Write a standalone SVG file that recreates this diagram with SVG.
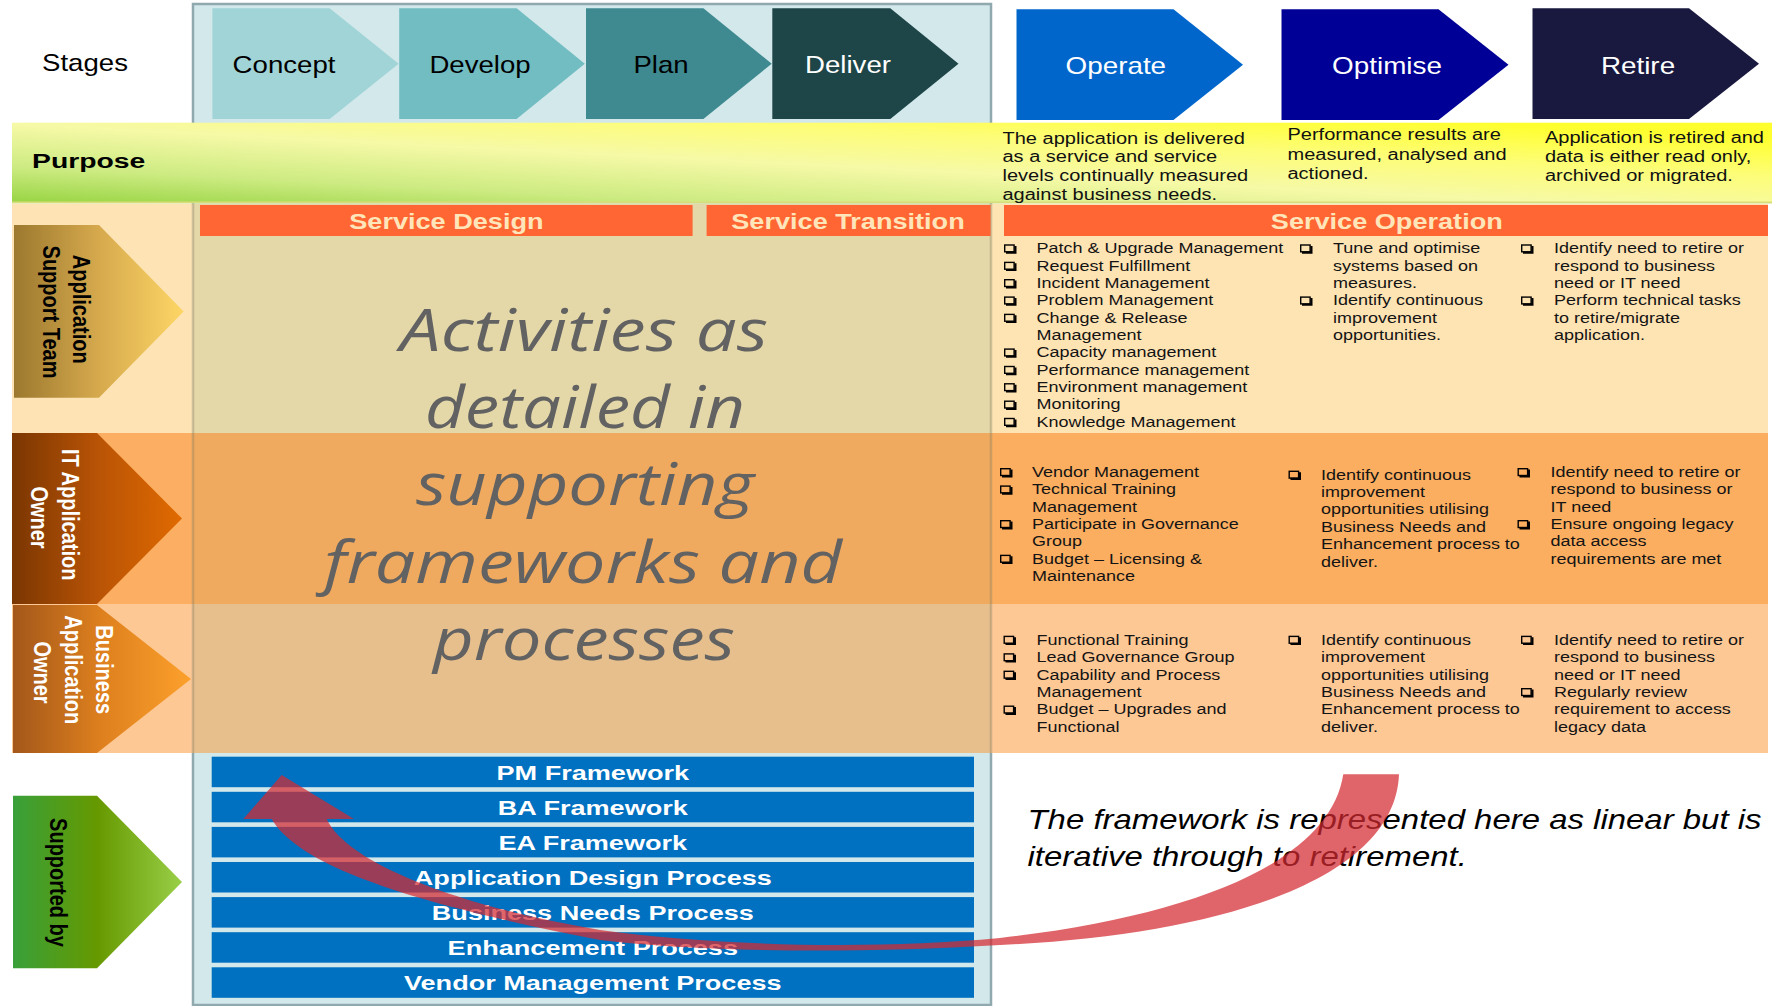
<svg xmlns="http://www.w3.org/2000/svg" xmlns:xlink="http://www.w3.org/1999/xlink" width="1772" height="1006" viewBox="0 0 1772 1006">
  <style>
    text { font-family: "Liberation Sans", Arial, sans-serif; }
    .stg { font-size: 24px; text-anchor: middle; }
    .dark { fill: #000; }
    .light { fill: #fff; }
    .lbl { font-size: 20px; font-weight: bold; text-anchor: middle; }
    .svc { font-size: 22.4px; font-weight: bold; fill: #FFE6BA; text-anchor: middle; }
    .li { font-size: 15px; fill: #141414; }
    .pd { font-size: 16px; fill: #111; }
    .fwt { font-size: 21px; font-weight: bold; fill: #fff; text-anchor: middle; }
    .fwb { fill: #0070C0; }
    .big { font-family: "Open Sans", "DejaVu Sans", sans-serif; font-style: italic; font-size: 58px; fill: #626262; text-anchor: middle; }
    .note { font-size: 27px; font-style: italic; fill: #000; }
    .sbar { fill: #FF6633; }
  </style>
  <defs>
    <linearGradient id="gPurpose" gradientUnits="userSpaceOnUse" x1="20" y1="200" x2="27.6" y2="50">
      <stop offset="0" stop-color="#9CD648"/>
      <stop offset="0.22" stop-color="#CDEB82"/>
      <stop offset="0.5" stop-color="#F6F9A6"/>
      <stop offset="0.75" stop-color="#FDFD78"/>
      <stop offset="1" stop-color="#FFFF30"/>
    </linearGradient>
    <linearGradient id="gSupport" x1="0" y1="0" x2="1" y2="0">
      <stop offset="0" stop-color="#9C792F"/>
      <stop offset="0.5" stop-color="#D6A94D"/>
      <stop offset="1" stop-color="#FDD666"/>
    </linearGradient>
    <linearGradient id="gIT" x1="0" y1="0" x2="1" y2="0">
      <stop offset="0" stop-color="#7A3601"/>
      <stop offset="0.5" stop-color="#B85306"/>
      <stop offset="1" stop-color="#E06A00"/>
    </linearGradient>
    <linearGradient id="gBiz" x1="0" y1="0" x2="1" y2="0">
      <stop offset="0" stop-color="#A3571A"/>
      <stop offset="0.5" stop-color="#DE801E"/>
      <stop offset="1" stop-color="#FCA02C"/>
    </linearGradient>
    <linearGradient id="gSup" x1="0" y1="0" x2="1" y2="0">
      <stop offset="0" stop-color="#38A03A"/>
      <stop offset="0.5" stop-color="#669900"/>
      <stop offset="1" stop-color="#99CF48"/>
    </linearGradient>
    <!-- shadowed check-box bullet -->
    <g id="cb">
      <rect x="0.7" y="0.7" width="9.4" height="6.8" fill="none" stroke="#000" stroke-width="1.4"/>
      <path d="M2 8.3H11.4V1.6" fill="none" stroke="#000" stroke-width="2.2"/>
    </g>
  </defs>

  <rect width="1772" height="1006" fill="#fff"/>

  <!-- lifecycle container (stages + middle column + frameworks) -->
  <g id="stage-container">
    <rect x="193" y="4" width="798" height="1001" fill="#D2E8EB" stroke="#8FA9AE" stroke-width="2.5"/>
  </g>

  <!-- stage chevrons -->
  <g id="stages-label"><text class="stg dark" transform="translate(85 70.7) scale(1.15 1)">Stages</text></g>
  <g id="stage-concept">
    <polygon points="212.4,8.3 329.7,8.3 398.6,63.7 329.7,119 212.4,119" fill="#A1D4D7"/>
    <text class="stg dark" transform="translate(284 73.3) scale(1.15 1)">Concept</text>
  </g>
  <g id="stage-develop">
    <polygon points="399.2,8.3 516.6,8.3 584.8,63.7 516.6,119 399.2,119" fill="#72BDC2"/>
    <text class="stg dark" transform="translate(480 73.3) scale(1.15 1)">Develop</text>
  </g>
  <g id="stage-plan">
    <polygon points="586,8.3 703.4,8.3 771.7,63.7 703.4,119 586,119" fill="#3E8A90"/>
    <text class="stg dark" transform="translate(661 73.3) scale(1.15 1)">Plan</text>
  </g>
  <g id="stage-deliver">
    <polygon points="772.3,8.3 890.3,8.3 958.5,63.7 890.3,119 772.3,119" fill="#1E4548"/>
    <text class="stg light" transform="translate(848 73.3) scale(1.15 1)">Deliver</text>
  </g>
  <g id="stage-operate">
    <polygon points="1016.5,9.3 1173.5,9.3 1243,64.7 1173.5,120 1016.5,120" fill="#0166CC"/>
    <text class="stg light" transform="translate(1115.8 74) scale(1.16 1)">Operate</text>
  </g>
  <g id="stage-optimise">
    <polygon points="1281.5,9.3 1438.5,9.3 1508.5,64.7 1438.5,120 1281.5,120" fill="#000096"/>
    <text class="stg light" transform="translate(1387 74) scale(1.16 1)">Optimise</text>
  </g>
  <g id="stage-retire">
    <polygon points="1532.5,8.3 1689,8.3 1759,63.7 1689,119 1532.5,119" fill="#19183F"/>
    <text class="stg light" transform="translate(1638 74) scale(1.16 1)">Retire</text>
  </g>

  <!-- purpose band -->
  <g id="purpose">
    <rect x="12" y="122.7" width="1760" height="80" fill="url(#gPurpose)"/>
    <line x1="12" y1="202.5" x2="1772" y2="202.5" stroke="#D9DC7A" stroke-width="2"/>
    <text transform="translate(32 168.3) scale(1.35 1)" font-size="21" font-weight="bold" fill="#000">Purpose</text>
    <text class="pd" transform="translate(1002.5 143.6) scale(1.25 1)">
      <tspan x="0" y="0">The application  is delivered</tspan>
      <tspan x="0" y="18.9">as a service and service</tspan>
      <tspan x="0" y="37.8">levels continually  measured</tspan>
      <tspan x="0" y="56.7">against business needs.</tspan>
    </text>
    <text class="pd" transform="translate(1287.5 140.4) scale(1.25 1)">
      <tspan x="0" y="0">Performance results are</tspan>
      <tspan x="0" y="19.5">measured, analysed and</tspan>
      <tspan x="0" y="39">actioned.</tspan>
    </text>
    <text class="pd" transform="translate(1545 142.7) scale(1.25 1)">
      <tspan x="0" y="0">Application  is retired and</tspan>
      <tspan x="0" y="19.3">data is either read only,</tspan>
      <tspan x="0" y="38.6">archived or migrated.</tspan>
    </text>
  </g>

  <!-- role rows -->
  <g id="row-support-team">
    <rect x="12" y="204" width="181" height="229" fill="#FEE3B5"/>
    <rect x="193" y="204" width="798" height="229" fill="#E5D8A8"/>
    <rect x="991" y="204" width="777" height="229" fill="#FEE3B3"/>
    <polygon points="14,225 99,225 183.7,311.5 99,397.7 14,397.7" fill="url(#gSupport)"/>
    <text class="lbl dark" transform="translate(73 312) scale(1.2 1) rotate(90)">
      <tspan x="0" y="0">Application</tspan>
      <tspan x="0" y="25">Support Team</tspan>
    </text>
  </g>
  <g id="row-it-owner">
    <rect x="12" y="433" width="181" height="171" fill="#FCAF62"/>
    <rect x="193" y="433" width="798" height="171" fill="#F0AA5F"/>
    <rect x="991" y="433" width="777" height="171" fill="#FBAE60"/>
    <polygon points="12,433 97,433 182,518.5 97,604 12,604" fill="url(#gIT)"/>
    <text class="lbl light" transform="translate(62 517.5) scale(1.2 1) rotate(90)">
      <tspan x="0" y="0">IT Application</tspan>
      <tspan x="0" y="26">Owner</tspan>
    </text>
  </g>
  <g id="row-business-owner">
    <rect x="12" y="604" width="181" height="149" fill="#FEC895"/>
    <rect x="193" y="604" width="798" height="149" fill="#E6BF8C"/>
    <rect x="991" y="604" width="777" height="149" fill="#FEC895"/>
    <polygon points="13,605 97,605 191,679 97,753 13,753" fill="url(#gBiz)"/>
    <text class="lbl light" transform="translate(96.3 672.5) scale(1.2 1) rotate(90)">
      <tspan x="0" y="0">Business</tspan>
      <tspan x="0" y="26">Application</tspan>
      <tspan x="0" y="52">Owner</tspan>
    </text>
  </g>
  <g id="row-supported-by">
    <polygon points="13,795.7 97,795.7 182,882 97,968.3 13,968.3" fill="url(#gSup)"/>
    <text class="lbl dark" transform="translate(49.8 882.5) scale(1.2 1) rotate(90)">Supported by</text>
  </g>

  <!-- container edges seen through the rows -->
  <g id="container-edges" stroke="#7C7A62" stroke-opacity="0.35" stroke-width="2.5">
    <line x1="193" y1="204" x2="193" y2="753"/>
    <line x1="991" y1="204" x2="991" y2="753"/>
  </g>

  <!-- service phase headers -->
  <g id="service-design">
    <rect class="sbar" x="200" y="205" width="492.6" height="31"/>
    <text class="svc" transform="translate(446.4 229) scale(1.21 1)">Service Design</text>
  </g>
  <g id="service-transition">
    <rect class="sbar" x="706.6" y="205" width="284" height="31"/>
    <text class="svc" transform="translate(848 229) scale(1.21 1)">Service Transition</text>
  </g>
  <g id="service-operation">
    <rect class="sbar" x="1004" y="205" width="764" height="31"/>
    <text class="svc" transform="translate(1386.8 229) scale(1.21 1)">Service Operation</text>
  </g>

  <!-- middle column statement -->
  <g id="activities-note">
    <text class="big" x="584" y="351" textLength="368" lengthAdjust="spacingAndGlyphs">Activities as</text>
    <text class="big" x="585" y="428" textLength="320" lengthAdjust="spacingAndGlyphs">detailed in</text>
    <text class="big" x="585" y="505" textLength="338" lengthAdjust="spacingAndGlyphs">supporting</text>
    <text class="big" x="583" y="582.5" textLength="518" lengthAdjust="spacingAndGlyphs">frameworks and</text>
    <text class="big" x="584" y="660" textLength="302" lengthAdjust="spacingAndGlyphs">processes</text>
  </g>

  <!-- Service Operation activities: Application Support Team -->
  <g id="support-operate">
    <use href="#cb" x="1004" y="244.3"/>
    <use href="#cb" x="1004" y="261.7"/>
    <use href="#cb" x="1004" y="279"/>
    <use href="#cb" x="1004" y="296.4"/>
    <use href="#cb" x="1004" y="313.7"/>
    <use href="#cb" x="1004" y="348.4"/>
    <use href="#cb" x="1004" y="365.8"/>
    <use href="#cb" x="1004" y="383.1"/>
    <use href="#cb" x="1004" y="400.5"/>
    <use href="#cb" x="1004" y="417.8"/>
    <text class="li" transform="translate(1036.5 253.3) scale(1.2 1)">
      <tspan x="0" y="0">Patch &amp; Upgrade Management</tspan>
      <tspan x="0" y="17.35">Request Fulfillment</tspan>
      <tspan x="0" y="34.7">Incident Management</tspan>
      <tspan x="0" y="52.05">Problem Management</tspan>
      <tspan x="0" y="69.4">Change &amp; Release</tspan>
      <tspan x="0" y="86.75">Management</tspan>
      <tspan x="0" y="104.1">Capacity management</tspan>
      <tspan x="0" y="121.45">Performance management</tspan>
      <tspan x="0" y="138.8">Environment management</tspan>
      <tspan x="0" y="156.15">Monitoring</tspan>
      <tspan x="0" y="173.5">Knowledge Management</tspan>
    </text>
  </g>
  <g id="support-optimise">
    <use href="#cb" x="1300" y="244.3"/>
    <use href="#cb" x="1300" y="296.4"/>
    <text class="li" transform="translate(1333 253.3) scale(1.2 1)">
      <tspan x="0" y="0">Tune and optimise</tspan>
      <tspan x="0" y="17.35">systems based on</tspan>
      <tspan x="0" y="34.7">measures.</tspan>
      <tspan x="0" y="52.05">Identify continuous</tspan>
      <tspan x="0" y="69.4">improvement</tspan>
      <tspan x="0" y="86.75">opportunities.</tspan>
    </text>
  </g>
  <g id="support-retire">
    <use href="#cb" x="1521" y="244.3"/>
    <use href="#cb" x="1521" y="296.4"/>
    <text class="li" transform="translate(1554 253.3) scale(1.2 1)">
      <tspan x="0" y="0">Identify need to retire or</tspan>
      <tspan x="0" y="17.35">respond to business</tspan>
      <tspan x="0" y="34.7">need or IT need</tspan>
      <tspan x="0" y="52.05">Perform technical tasks</tspan>
      <tspan x="0" y="69.4">to retire/migrate</tspan>
      <tspan x="0" y="86.75">application.</tspan>
    </text>
  </g>

  <!-- Service Operation activities: IT Application Owner -->
  <g id="it-operate">
    <use href="#cb" x="1000" y="468"/>
    <use href="#cb" x="1000" y="485.4"/>
    <use href="#cb" x="1000" y="520"/>
    <use href="#cb" x="1000" y="554.7"/>
    <text class="li" transform="translate(1032 477) scale(1.2 1)">
      <tspan x="0" y="0">Vendor Management</tspan>
      <tspan x="0" y="17.35">Technical Training</tspan>
      <tspan x="0" y="34.7">Management</tspan>
      <tspan x="0" y="52.05">Participate in Governance</tspan>
      <tspan x="0" y="69.4">Group</tspan>
      <tspan x="0" y="86.75">Budget – Licensing &amp;</tspan>
      <tspan x="0" y="104.1">Maintenance</tspan>
    </text>
  </g>
  <g id="it-optimise">
    <use href="#cb" x="1288.5" y="470.6"/>
    <text class="li" transform="translate(1321 479.6) scale(1.2 1)">
      <tspan x="0" y="0">Identify continuous</tspan>
      <tspan x="0" y="17.45">improvement</tspan>
      <tspan x="0" y="34.9">opportunities utilising</tspan>
      <tspan x="0" y="52.35">Business Needs and</tspan>
      <tspan x="0" y="69.8">Enhancement process to</tspan>
      <tspan x="0" y="87.25">deliver.</tspan>
    </text>
  </g>
  <g id="it-retire">
    <use href="#cb" x="1517.5" y="468"/>
    <use href="#cb" x="1517.5" y="520"/>
    <text class="li" transform="translate(1550.5 477) scale(1.2 1)">
      <tspan x="0" y="0">Identify need to retire or</tspan>
      <tspan x="0" y="17.35">respond to business or</tspan>
      <tspan x="0" y="34.7">IT need</tspan>
      <tspan x="0" y="52.05">Ensure ongoing legacy</tspan>
      <tspan x="0" y="69.4">data access</tspan>
      <tspan x="0" y="86.75">requirements are met</tspan>
    </text>
  </g>

  <!-- Service Operation activities: Business Application Owner -->
  <g id="biz-operate">
    <use href="#cb" x="1003.5" y="635.7"/>
    <use href="#cb" x="1003.5" y="653.2"/>
    <use href="#cb" x="1003.5" y="670.6"/>
    <use href="#cb" x="1003.5" y="705.5"/>
    <text class="li" transform="translate(1036.5 644.7) scale(1.2 1)">
      <tspan x="0" y="0">Functional Training</tspan>
      <tspan x="0" y="17.45">Lead Governance Group</tspan>
      <tspan x="0" y="34.9">Capability and Process</tspan>
      <tspan x="0" y="52.35">Management</tspan>
      <tspan x="0" y="69.8">Budget – Upgrades  and</tspan>
      <tspan x="0" y="87.25">Functional</tspan>
    </text>
  </g>
  <g id="biz-optimise">
    <use href="#cb" x="1288.5" y="635.7"/>
    <text class="li" transform="translate(1321 644.7) scale(1.2 1)">
      <tspan x="0" y="0">Identify continuous</tspan>
      <tspan x="0" y="17.45">improvement</tspan>
      <tspan x="0" y="34.9">opportunities utilising</tspan>
      <tspan x="0" y="52.35">Business Needs and</tspan>
      <tspan x="0" y="69.8">Enhancement process to</tspan>
      <tspan x="0" y="87.25">deliver.</tspan>
    </text>
  </g>
  <g id="biz-retire">
    <use href="#cb" x="1521" y="635.7"/>
    <use href="#cb" x="1521" y="688"/>
    <text class="li" transform="translate(1554 644.7) scale(1.2 1)">
      <tspan x="0" y="0">Identify need to retire or</tspan>
      <tspan x="0" y="17.45">respond to business</tspan>
      <tspan x="0" y="34.9">need or IT need</tspan>
      <tspan x="0" y="52.35">Regularly review</tspan>
      <tspan x="0" y="69.8">requirement to access</tspan>
      <tspan x="0" y="87.25">legacy data</tspan>
    </text>
  </g>

  <!-- supporting frameworks and processes -->
  <g id="fw-pm">
    <rect class="fwb" x="211.7" y="756.7" width="762.3" height="30.5"/>
    <text class="fwt" transform="translate(592.8 779.7) scale(1.29 1)">PM Framework</text>
  </g>
  <g id="fw-ba">
    <rect class="fwb" x="211.7" y="791.8" width="762.3" height="30.5"/>
    <text class="fwt" transform="translate(592.8 814.8) scale(1.29 1)">BA Framework</text>
  </g>
  <g id="fw-ea">
    <rect class="fwb" x="211.7" y="826.9" width="762.3" height="30.5"/>
    <text class="fwt" transform="translate(592.8 849.9) scale(1.29 1)">EA Framework</text>
  </g>
  <g id="fw-app-design">
    <rect class="fwb" x="211.7" y="862" width="762.3" height="30.5"/>
    <text class="fwt" transform="translate(592.8 885) scale(1.29 1)">Application Design Process</text>
  </g>
  <g id="fw-business-needs">
    <rect class="fwb" x="211.7" y="897.1" width="762.3" height="30.5"/>
    <text class="fwt" transform="translate(592.8 920.1) scale(1.29 1)">Business Needs Process</text>
  </g>
  <g id="fw-enhancement">
    <rect class="fwb" x="211.7" y="932.2" width="762.3" height="30.5"/>
    <text class="fwt" transform="translate(592.8 955.2) scale(1.29 1)">Enhancement Process</text>
  </g>
  <g id="fw-vendor">
    <rect class="fwb" x="211.7" y="967.3" width="762.3" height="30.5"/>
    <text class="fwt" transform="translate(592.8 990.3) scale(1.29 1)">Vendor Management Process</text>
  </g>

  <!-- explanatory note -->
  <g id="iteration-note">
    <text class="note" transform="translate(1027.5 829) scale(1.22 1)">
      <tspan x="0" y="0">The framework is represented here as linear but is</tspan>
      <tspan x="0" y="37.5">iterative through to retirement.</tspan>
    </text>
  </g>

  <!-- iteration arrow: from retirement back to the start of the frameworks -->
  <g id="connectors">
    <path d="M281.7,775 L354,819 L326.7,819 C345,860 450,905 600,930 C720,946 870,950 1000,938 C1200,915 1330,860 1343.3,774.3 L1399,774.3 C1395,880 1220,935 1000,945 C850,954 700,952 600,940 C420,905 300,868 271.7,819 L243.3,819 Z" fill="#D42A30" fill-opacity="0.72"/>
  </g>
</svg>
